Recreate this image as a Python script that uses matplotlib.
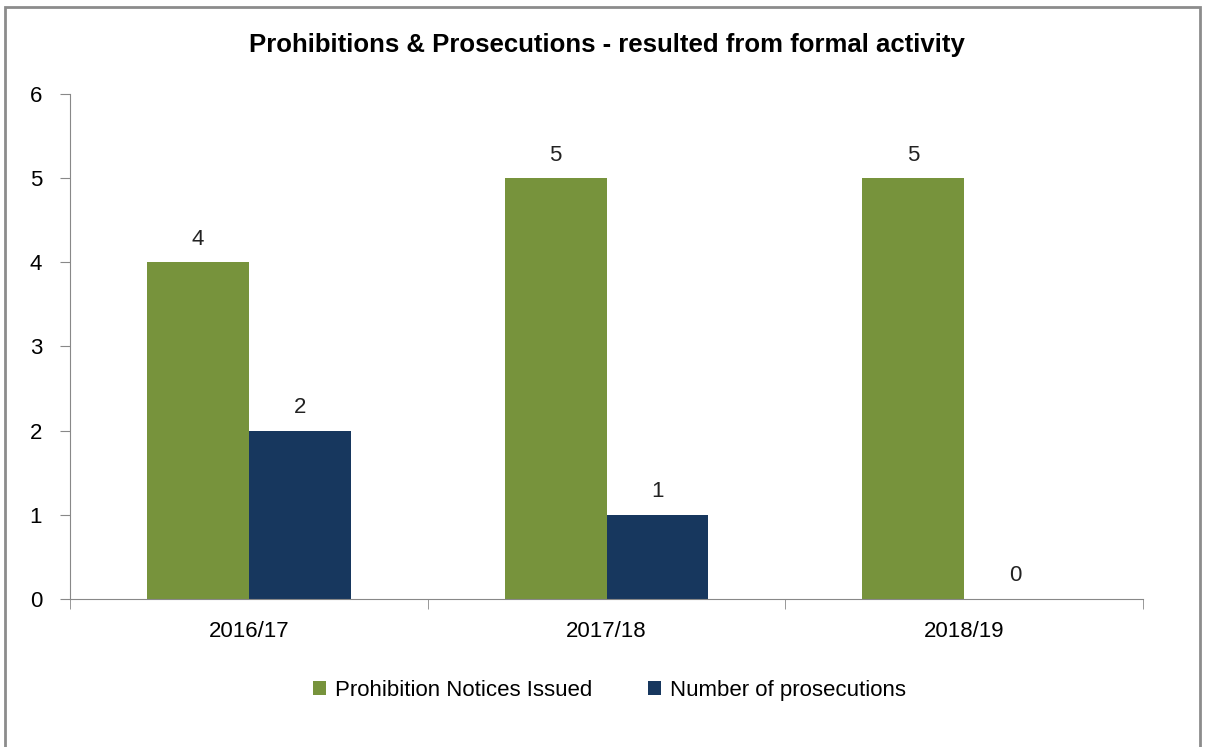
import matplotlib.pyplot as plt
import numpy as np
from matplotlib.patches import Rectangle

years = ["2016/17", "2017/18", "2018/19"]
notices = [4, 5, 5]
prosecutions = [2, 1, 0]

green = "#77933C"
navy = "#17375E"
plt.rcParams['font.family'] = ['Liberation Sans', 'DejaVu Sans']

fig = plt.figure(figsize=(12.07, 7.47), dpi=100)
ax = fig.add_axes([0.058, 0.1982, 0.889, 0.676])

x = np.arange(len(years))
w = 0.285
b1 = ax.bar(x - w / 2, notices, w, color=green, label="Prohibition Notices Issued")
b2 = ax.bar(x + w / 2, prosecutions, w, color=navy, label="Number of prosecutions")
for bars, vals in [(b1, notices), (b2, prosecutions)]:
    for r, v in zip(bars, vals):
        ax.text(r.get_x() + r.get_width() / 2, v + 0.15, str(v),
                ha="center", va="bottom", fontsize=16, color="#222222")

ax.set_xlim(-0.5, 2.5)
ax.set_ylim(0, 6)
ax.set_yticks(range(7))
ax.set_xticks(x)
ax.set_xticklabels(years)
ax.set_xticks([-0.5, 0.5, 1.5, 2.5], minor=True)
ax.tick_params(axis="x", which="major", length=0, pad=16, labelsize=16)
ax.tick_params(axis="x", which="minor", length=7, color="#888888", direction="out")
ax.tick_params(axis="y", length=7, color="#888888", pad=13, labelsize=16)
for s in ["top", "right"]:
    ax.spines[s].set_visible(False)
for s in ["left", "bottom"]:
    ax.spines[s].set_color("#888888")

fig.suptitle("Prohibitions & Prosecutions - resulted from formal activity",
             x=0.503, y=0.94, va="center", fontsize=18.5, fontweight="bold")
fig.legend(loc="center", bbox_to_anchor=(0.505, 0.076), ncol=2, frameon=False,
           fontsize=16, handlelength=0.6, handleheight=0.6, columnspacing=2.5,
           handletextpad=0.4)

fig.patches.append(Rectangle((0.004, -0.05), 0.99, 1.04, transform=fig.transFigure,
                             fill=False, edgecolor="#8c8c8c", linewidth=2))

fig.savefig("out.png", dpi=100)
